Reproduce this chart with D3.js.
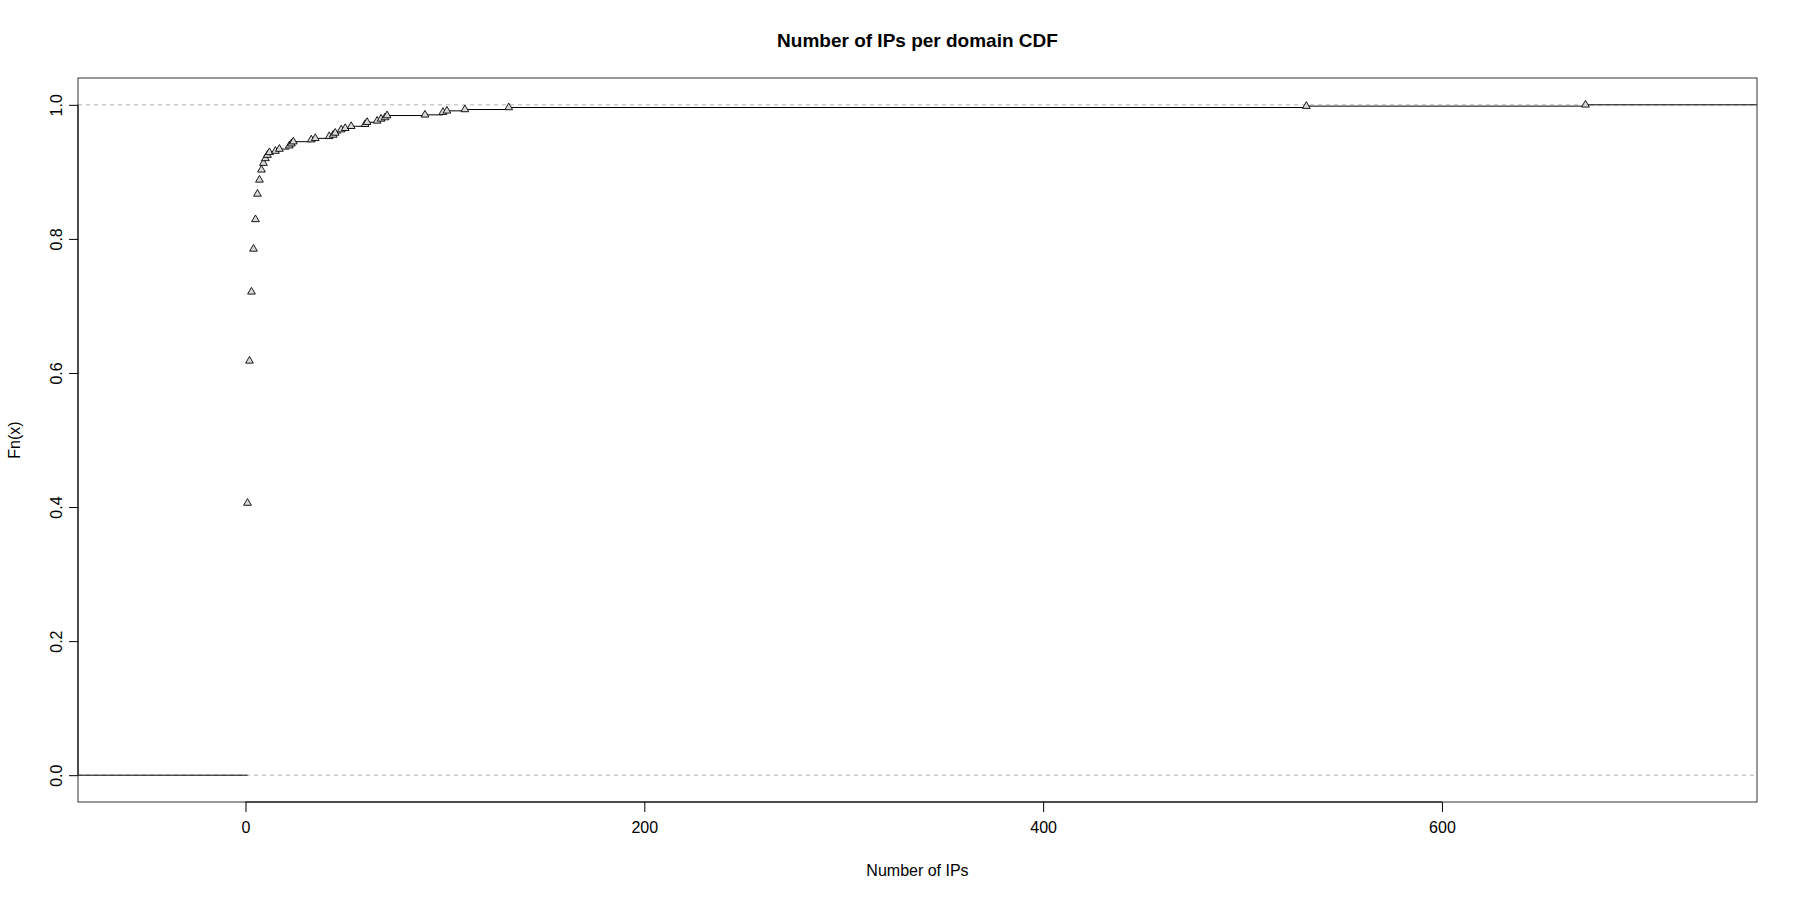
<!DOCTYPE html>
<html>
<head>
<meta charset="utf-8">
<script src="https://cdn.jsdelivr.net/npm/d3@7"></script>
<style>
  body { margin: 0; background: #fff; }
  svg { font-family: "Liberation Sans", Arial, sans-serif; }
</style>
</head>
<body>
<svg id="svg1" width="1797" height="900"></svg>
<script>
// ecdf knots (number of IPs) and Fn(x) at each knot
var knots = [1, 2, 3, 4, 5, 6, 7, 8, 9, 10, 11, 12, 15, 17, 22, 23, 24, 33, 35,
    42, 44, 45, 48, 50, 53, 60, 61, 66, 68, 70, 71, 90, 99, 101, 110, 132, 532, 672];
var fnValues = [0.406, 0.618, 0.721, 0.785, 0.829, 0.867, 0.888, 0.903, 0.913, 0.920,
    0.925, 0.929, 0.931, 0.934, 0.939, 0.942, 0.945, 0.948, 0.950, 0.953, 0.955,
    0.958, 0.963, 0.965, 0.968, 0.971, 0.974, 0.976, 0.979, 0.981, 0.984, 0.985,
    0.989, 0.991, 0.993, 0.996, 0.998, 1.0];
var xTicks = [0, 200, 400, 600];
var yTicks = [0, 0.2, 0.4, 0.6, 0.8, 1.0];

var plotLeft = 78, plotRight = 1757, plotTop = 78, plotBottom = 802;

var svg = d3.select('#svg1');

var scaleX = d3.scaleLinear().domain([-84, 758]).range([plotLeft, plotRight]);
var scaleY = d3.scaleLinear().domain([-0.04, 1.04]).range([plotBottom, plotTop]);

svg.append('defs').append('clipPath').attr('id', 'clip')
    .append('rect')
    .attr('x', plotLeft).attr('y', plotTop)
    .attr('width', plotRight - plotLeft).attr('height', plotBottom - plotTop);

// grey dashed reference lines at 0 and 1
svg.selectAll('.ref')
    .data([0, 1])
    .enter().append('line')
    .attr('x1', plotLeft).attr('x2', plotRight)
    .attr('y1', function(d) { return scaleY(d); })
    .attr('y2', function(d) { return scaleY(d); })
    .attr('stroke', '#b3b3b3')
    .attr('stroke-dasharray', '4,4');

// step segments
var steps = [];
steps.push({x0: -200, x1: knots[0], y: 0});
for (var i = 0; i < knots.length; i++) {
    steps.push({x0: knots[i], x1: i < knots.length - 1 ? knots[i + 1] : 1000, y: fnValues[i]});
}

var g = svg.append('g').attr('clip-path', 'url(#clip)');
g.selectAll('.step')
    .data(steps)
    .enter().append('line')
    .attr('x1', function(d) { return scaleX(d.x0); })
    .attr('x2', function(d) { return scaleX(d.x1); })
    .attr('y1', function(d) { return scaleY(d.y); })
    .attr('y2', function(d) { return scaleY(d.y); })
    .attr('stroke', '#000')
    .attr('stroke-width', 1);

g.selectAll('.pt')
    .data(knots)
    .enter().append('path')
    .attr('d', d3.symbol().type(d3.symbolTriangle).size(26))
    .attr('transform', function(d, i) { return 'translate(' + scaleX(d) + ',' + scaleY(fnValues[i]) + ')'; })
    .attr('fill', '#d9d9d9')
    .attr('stroke', '#000')
    .attr('stroke-width', 0.9);

// box
svg.append('rect')
    .attr('x', plotLeft).attr('y', plotTop)
    .attr('width', plotRight - plotLeft).attr('height', plotBottom - plotTop)
    .attr('fill', 'none')
    .attr('stroke', '#333');

// axes
var xAxis = d3.axisBottom(scaleX).tickValues(xTicks).tickSize(10).tickPadding(10).tickFormat(d3.format('d'));
svg.append('g')
    .attr('transform', 'translate(0,' + plotBottom + ')')
    .call(xAxis)
    .call(function(s) {
        s.select('.domain').attr('d', 'M' + scaleX(xTicks[0]) + ',0H' + scaleX(xTicks[xTicks.length - 1]));
        s.selectAll('text').attr('font-size', 16).attr('fill', '#000').attr('font-family', 'Liberation Sans, Arial, sans-serif');
    });

var yAxis = d3.axisLeft(scaleY).tickValues(yTicks).tickSize(9).tickFormat(d3.format('.1f'));
var ya = svg.append('g')
    .attr('transform', 'translate(' + plotLeft + ',0)')
    .call(yAxis);
ya.select('.domain').attr('d', 'M0,' + scaleY(0) + 'V' + scaleY(1));
ya.selectAll('text')
    .attr('font-size', 16).attr('fill', '#000')
    .attr('font-family', 'Liberation Sans, Arial, sans-serif')
    .attr('x', null).attr('dy', null)
    .attr('text-anchor', 'middle')
    .attr('transform', 'translate(-22,0) rotate(-90)')
    .attr('dy', '0.35em');

// titles
svg.append('text')
    .attr('x', (plotLeft + plotRight) / 2).attr('y', 47)
    .attr('text-anchor', 'middle')
    .attr('font-size', 19).attr('font-weight', 'bold')
    .text('Number of IPs per domain CDF');

svg.append('text')
    .attr('x', (plotLeft + plotRight) / 2).attr('y', 876)
    .attr('text-anchor', 'middle')
    .attr('font-size', 16)
    .text('Number of IPs');

svg.append('text')
    .attr('transform', 'translate(20,' + (plotTop + plotBottom) / 2 + ') rotate(-90)')
    .attr('text-anchor', 'middle')
    .attr('font-size', 16)
    .text('Fn(x)');
</script>
</body>
</html>
